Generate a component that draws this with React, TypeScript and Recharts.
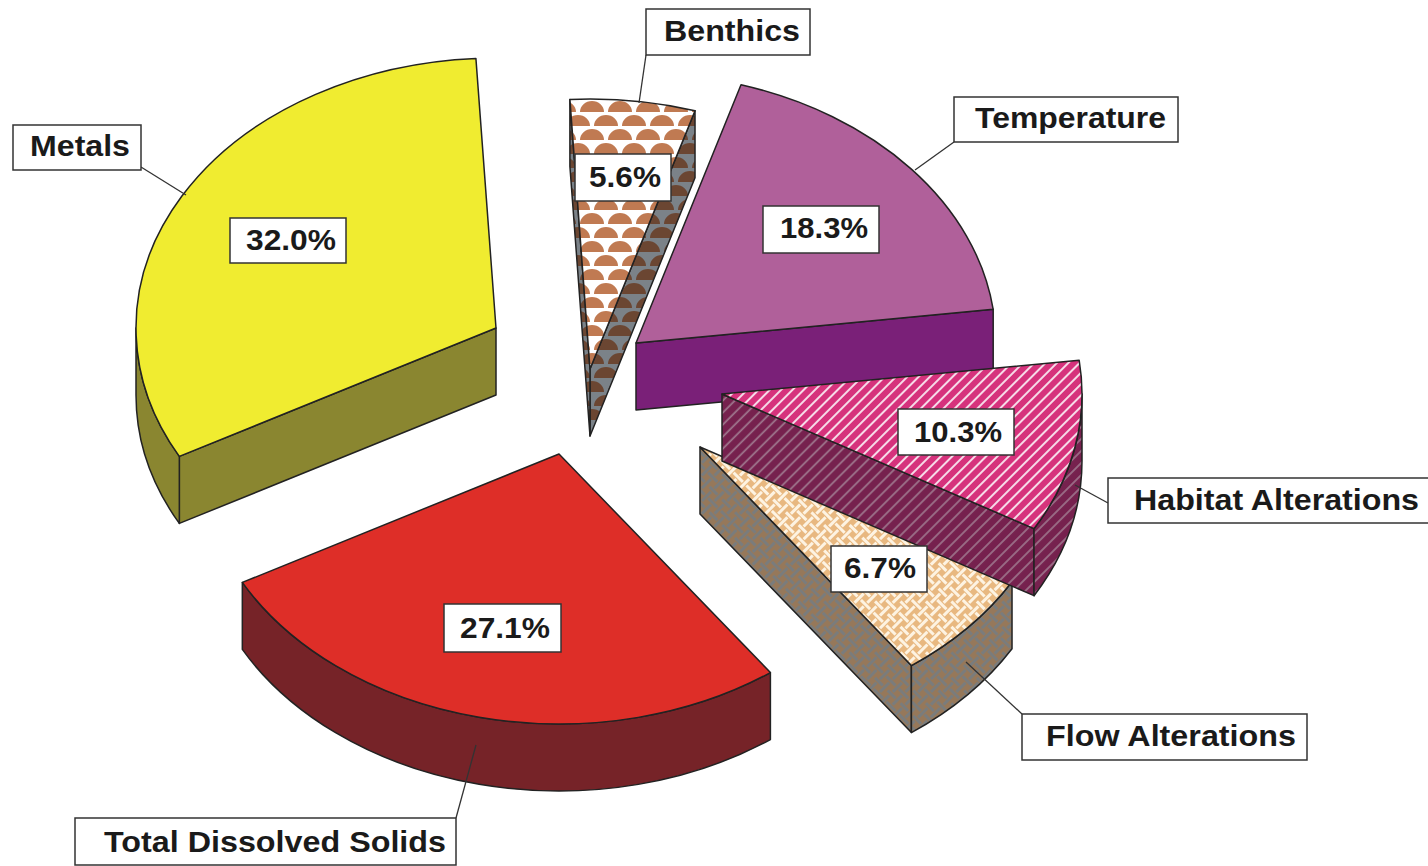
import React from "react";
import { PieChart, Pie } from "recharts";

const names = ["Metals", "Total Dissolved Solids", "Flow Alterations", "Habitat Alterations", "Temperature", "Benthics"];
const shares = [32.0, 27.1, 6.7, 10.3, 18.3, 5.6];

const pieData = names.map((name, i) => ({ name, value: shares[i] }));

// exploded position of each slice, and the order they are painted in
const centers = [
  [496, 328],
  [559, 454],
  [700, 447],
  [722, 394],
  [636, 343],
  [590, 369],
];
const paintOrder = [0, 5, 4, 2, 3, 1];

const topFills = ["#f0ec30", "#de2e28", "url(#weaveTop)", "url(#stripeTop)", "#b0609a", "url(#scaleTop)"];
const sideFills = ["#8a8630", "#762328", "url(#weaveSide)", "url(#stripeSide)", "#7a2078", "url(#scaleSide)"];

const RADIUS = 360;
const SQUASH = 0.75;
const DEPTH = 67;
const EDGE = "#222";

// name box, percent box and leader line per slice: x, y, w, h, text left, text width, baseline
const nameBoxes = [
  [13, 125, 128, 45, 30, 100, 156],
  [75, 818, 381, 47, 104, 342, 852],
  [1022, 714, 285, 46, 1046, 250, 746],
  [1108, 478, 330, 45, 1134, 285, 510],
  [954, 97, 224, 45, 975, 191, 128],
  [646, 9, 164, 46, 664, 136, 41],
];
const percentBoxes = [
  [230, 218, 116, 45, 246, 90, 250],
  [444, 604, 117, 48, 460, 90, 638],
  [831, 546, 96, 46, 844, 72, 578],
  [898, 409, 116, 46, 914, 88, 442],
  [763, 206, 116, 47, 780, 88, 238],
  [575, 154, 96, 47, 589, 72, 187],
];
const leaders = [
  [141, 167, 186, 195],
  [456, 818, 476, 745],
  [1022, 714, 966, 662],
  [1108, 503, 1075, 485],
  [954, 142, 915, 170],
  [646, 55, 639, 103],
];

const pt = (cx: number, cy: number, r: number, deg: number) => {
  const a = (deg * Math.PI) / 180;
  return [cx + r * Math.cos(a), cy - r * SQUASH * Math.sin(a)];
};

const arc = (cx: number, cy: number, r: number, from: number, to: number) => {
  const [x, y] = pt(cx, cy, r, to);
  return `A ${r} ${r * SQUASH} 0 ${to - from > 180 ? 1 : 0} 0 ${x} ${y}`;
};

const Slice = (props: any) => {
  const { cx, cy, outerRadius: r, startAngle: s, endAngle: e } = props;
  const i = names.indexOf(props.name);
  const p0 = pt(cx, cy, r, s);
  const p1 = pt(cx, cy, r, e);
  const top = `M ${cx} ${cy} L ${p0[0]} ${p0[1]} ${arc(cx, cy, r, s, e)} Z`;
  const faces: string[] = [];

  const radialFace = (p: number[]) =>
    `M ${cx} ${cy} L ${p[0]} ${p[1]} L ${p[0]} ${p[1] + DEPTH} L ${cx} ${cy + DEPTH} Z`;
  if (Math.cos((s * Math.PI) / 180) > 0) faces.push(radialFace(p0));
  if (Math.cos((e * Math.PI) / 180) < 0) faces.push(radialFace(p1));

  // the outer wall only shows on the front half of the ellipse
  const from = Math.max(s, 180);
  const to = Math.min(e, 360);
  if (to > from) {
    const a = pt(cx, cy, r, from);
    const b = pt(cx, cy, r, to);
    faces.push(
      `M ${a[0]} ${a[1]} ${arc(cx, cy, r, from, to)} L ${b[0]} ${b[1] + DEPTH} ` +
        `A ${r} ${r * SQUASH} 0 ${to - from > 180 ? 1 : 0} 1 ${a[0]} ${a[1] + DEPTH} Z`
    );
  }

  return (
    <g>
      {faces.map((d) => (
        <path key={d} d={d} fill={sideFills[i]} stroke={EDGE} strokeWidth={1.5} strokeLinejoin="round" />
      ))}
      <path d={top} fill={topFills[i]} stroke={EDGE} strokeWidth={1.5} strokeLinejoin="round" />
    </g>
  );
};

const TextBox = ({ box, text }: { box: number[]; text: string }) => {
  const [x, y, w, h, tx, tw, base] = box;
  return (
    <g>
      <rect x={x} y={y} width={w} height={h} fill="#fff" stroke="#333" strokeWidth={1.5} />
      <text
        x={tx}
        y={base}
        textLength={tw}
        lengthAdjust="spacingAndGlyphs"
        fontFamily="'Liberation Sans', Arial, sans-serif"
        fontWeight="bold"
        fontSize={29}
        fill="#1a1a1a"
      >
        {text}
      </text>
    </g>
  );
};

const renderLabel = (props: any) => {
  const i = props.index;
  const [x1, y1, x2, y2] = leaders[i];
  return (
    <g key={names[i]}>
      <line x1={x1} y1={y1} x2={x2} y2={y2} stroke="#333" strokeWidth={1.3} />
      <TextBox box={nameBoxes[i]} text={names[i]} />
      <TextBox box={percentBoxes[i]} text={`${shares[i].toFixed(1)}%`} />
    </g>
  );
};

const domes = "M2 12 A 12 11 0 0 1 26 12 Z M-12 26 A 12 11 0 0 1 12 26 Z M16 26 A 12 11 0 0 1 40 26 Z";
const weave = "M-2 4.5 H11 M7 13.5 H20 M-11 13.5 H2 M13.5 -2 V11 M4.5 7 V20 M4.5 -11 V2 M13.5 16 V29";

const Patterns = () => (
  <defs>
    <pattern id="scaleTop" width="28" height="28" patternUnits="userSpaceOnUse" x="4" y="2">
      <rect width="28" height="28" fill="#fff" />
      <path d={domes} fill="#c07a52" />
    </pattern>
    <pattern id="scaleSide" width="28" height="28" patternUnits="userSpaceOnUse" x="4" y="2">
      <rect width="28" height="28" fill="#7b8288" />
      <path d={domes} fill="#6b4632" />
    </pattern>
    <pattern id="stripeTop" width="8" height="8" patternUnits="userSpaceOnUse" patternTransform="rotate(-45)">
      <rect width="8" height="8" fill="#d6327c" />
      <rect y="3" width="8" height="2" fill="#f6dbe8" />
    </pattern>
    <pattern id="stripeSide" width="8.5" height="8.5" patternUnits="userSpaceOnUse" patternTransform="rotate(-45)">
      <rect width="8.5" height="8.5" fill="#76214e" />
      <rect y="3" width="8.5" height="1.8" fill="#9c7189" />
    </pattern>
    <pattern id="weaveTop" width="18" height="18" patternUnits="userSpaceOnUse" patternTransform="rotate(45)">
      <rect width="18" height="18" fill="#e8b880" />
      <path d={weave} stroke="#fdf3e2" strokeWidth={3} fill="none" />
    </pattern>
    <pattern id="weaveSide" width="18" height="18" patternUnits="userSpaceOnUse" patternTransform="rotate(45)">
      <rect width="18" height="18" fill="#96785a" />
      <path d={weave} stroke="#7a7c7c" strokeWidth={3} fill="none" />
    </pattern>
  </defs>
);

const App = () => {
  return (
    <div style={{ position: "absolute", left: 0, top: 0, width: 1428, height: 866, background: "#fff", overflow: "hidden" }}>
      <PieChart width={1428} height={866} margin={{ top: 0, right: 0, bottom: 0, left: 0 }}>
        <Patterns />
        {paintOrder.map((idx) => (
          <Pie
            key={names[idx]}
            data={pieData}
            dataKey="value"
            nameKey="name"
            cx={centers[idx][0]}
            cy={centers[idx][1]}
            innerRadius={0}
            outerRadius={RADIUS}
            startAngle={93.2}
            endAngle={453.2}
            stroke="none"
            isAnimationActive={false}
            shape={(p: any) => (p.name === names[idx] ? <Slice {...p} /> : <g />)}
          />
        ))}
        <Pie
          data={pieData}
          dataKey="value"
          nameKey="name"
          cx={714}
          cy={433}
          outerRadius={RADIUS}
          startAngle={93.2}
          endAngle={453.2}
          isAnimationActive={false}
          shape={() => <g />}
          labelLine={false}
          label={renderLabel}
        />
      </PieChart>
    </div>
  );
};

export default App;
